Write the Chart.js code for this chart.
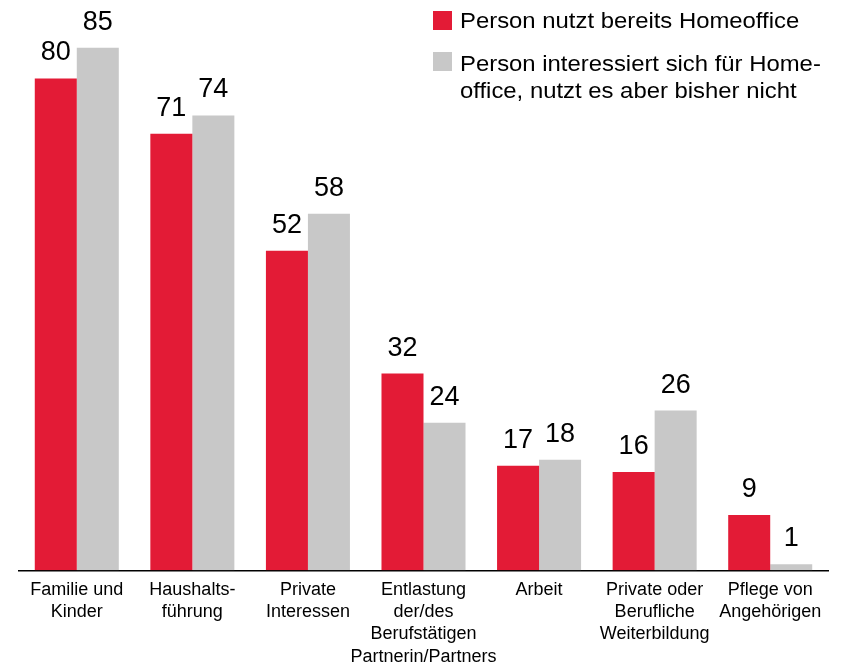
<!DOCTYPE html>
<html>
<head>
<meta charset="utf-8">
<script src="https://cdn.jsdelivr.net/npm/chart.js@4"></script>
<style>
  html, body { margin: 0; padding: 0; background: #ffffff; overflow: hidden; }
  #wrap { width: 841px; height: 676px; position: relative; }
</style>
</head>
<body>
<div id="wrap"><canvas id="c"></canvas></div>
<script>
const categories = [
  ["Familie und", "Kinder"],
  ["Haushalts-", "führung"],
  ["Private", "Interessen"],
  ["Entlastung", "der/des", "Berufstätigen", "Partnerin/Partners"],
  ["Arbeit"],
  ["Private oder", "Berufliche", "Weiterbildung"],
  ["Pflege von", "Angehörigen"]
];
const seriesNames = [
  ["Person nutzt bereits Homeoffice"],
  ["Person interessiert sich für Home-", "office, nutzt es aber bisher nicht"]
];
const usingHomeoffice = [80, 71, 52, 32, 17, 16, 9];
const interestedHomeoffice = [85, 74, 58, 24, 18, 26, 1];
const seriesColors = ["#E31B36", "#C8C8C8"];

const FONT = "'Liberation Sans', Arial, Helvetica, sans-serif";

const valueLabels = {
  id: 'valueLabels',
  afterDatasetsDraw(chart) {
    const ctx = chart.ctx;
    ctx.save();
    ctx.font = "27px " + FONT;
    ctx.fillStyle = "#000";
    ctx.textAlign = "center";
    ctx.textBaseline = "alphabetic";
    chart.data.datasets.forEach((ds, di) => {
      const meta = chart.getDatasetMeta(di);
      meta.data.forEach((el, i) => {
        ctx.fillText(String(ds.data[i]), el.x, el.y - 18);
      });
    });
    ctx.restore();
  }
};

const customLegend = {
  id: 'customLegend',
  afterDraw(chart) {
    const ctx = chart.ctx;
    ctx.save();
    const boxX = 433, box = 19, textX = 460, sx = 1.085;
    const entries = [
      { boxY: 11, base: 27.5 },
      { boxY: 52, base: 70.5 }
    ];
    seriesNames.forEach((lines, i) => {
      ctx.fillStyle = seriesColors[i];
      ctx.fillRect(boxX, entries[i].boxY, box, box);
      ctx.fillStyle = "#000";
      lines.forEach((ln, j) => {
        ctx.save();
        ctx.translate(textX, entries[i].base + j * 27);
        ctx.scale(sx, 1);
        ctx.font = "22px " + FONT;
        ctx.textAlign = "left";
        ctx.textBaseline = "alphabetic";
        ctx.fillText(ln, 0, 0);
        ctx.restore();
      });
    });
    ctx.restore();
  }
};

new Chart(document.getElementById('c'), {
  type: 'bar',
  data: {
    labels: categories,
    datasets: [
      { label: seriesNames[0].join(' '), data: usingHomeoffice, backgroundColor: seriesColors[0] },
      { label: seriesNames[1].join(' '), data: interestedHomeoffice, backgroundColor: seriesColors[1] }
    ]
  },
  options: {
    responsive: true,
    maintainAspectRatio: false,
    animation: false,
    devicePixelRatio: 1,
    layout: { padding: { top: 17, left: 19, right: 13, bottom: 0 } },
    datasets: { bar: { categoryPercentage: 0.727, barPercentage: 1.0 } },
    plugins: { legend: { display: false }, tooltip: { enabled: false } },
    scales: {
      y: { display: false, min: 0, max: 90 },
      x: {
        grid: { display: false, drawTicks: false },
        border: { display: true, color: '#000', width: 1.5 },
        ticks: {
          color: '#000',
          padding: 8,
          maxRotation: 0,
          autoSkip: false,
          font: { family: FONT, size: 18, lineHeight: 1.245 }
        }
      }
    }
  },
  plugins: [valueLabels, customLegend]
});
</script>
</body>
</html>
